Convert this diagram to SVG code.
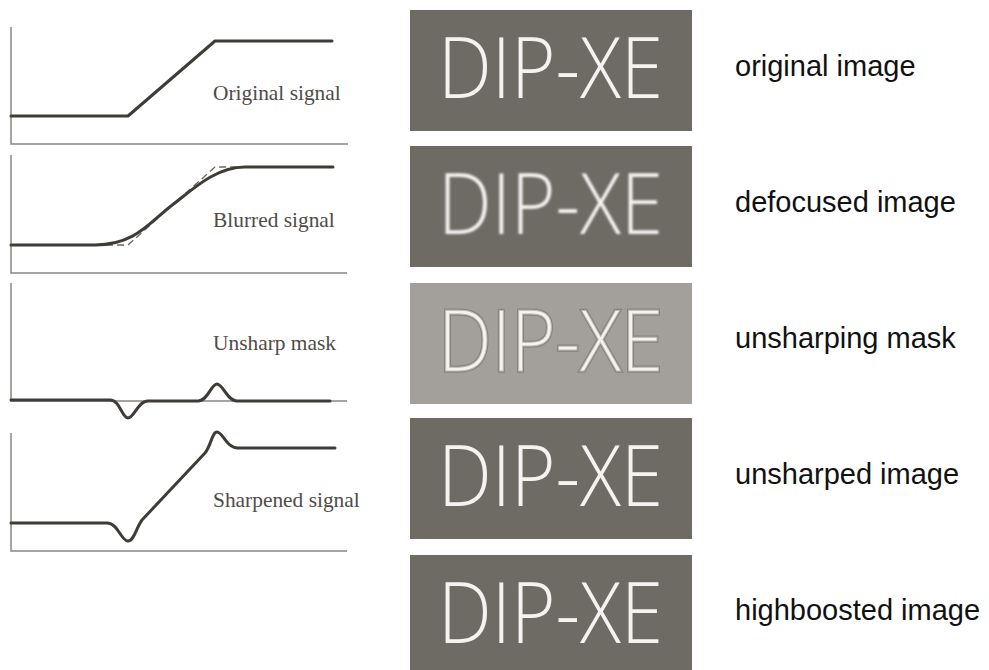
<svg xmlns="http://www.w3.org/2000/svg" width="989" height="670" viewBox="0 0 989 670">
<style>
.axis{fill:none;stroke:#8a8680;stroke-width:1.5}
.sig{fill:none;stroke:#3f3b37;stroke-width:3;stroke-linejoin:round;stroke-linecap:round}
.dash{fill:none;stroke:#6a6661;stroke-width:1.3;stroke-dasharray:7,4}
.cap{font-family:"Liberation Serif",serif;font-size:21.4px;fill:#4f4b47}
.box{fill:#6e6a64}
.logo{font-family:"Open Sans","Liberation Sans",sans-serif;font-weight:300;font-size:85px;fill:#f4f3f0}
.lbl{font-family:"Liberation Sans",sans-serif;font-size:29px;fill:#111}
</style>
<defs>
<filter id="soft" x="-5%" y="-5%" width="110%" height="110%"><feGaussianBlur stdDeviation="0.6"/></filter>
<filter id="blur" x="-5%" y="-5%" width="110%" height="110%"><feGaussianBlur stdDeviation="1.0"/></filter>
</defs>
<rect width="989" height="670" fill="#fff"/>

<g id="plot-original">
<path class="axis" d="M11,27 V144 H348"/>
<path class="sig" d="M11,116 H128 L215,41 H332"/>
<text class="cap" x="213" y="100">Original signal</text>
</g>

<g id="plot-blurred">
<path class="axis" d="M11,155 V273 H347"/>
<path class="dash" d="M95,245 H128 L215,167 H245"/>
<path class="sig" d="M11,245 H95 C135,245 150,222 171,206 S215,167 245,167 H333"/>
<text class="cap" x="213" y="227">Blurred signal</text>
</g>

<g id="plot-mask">
<path class="axis" d="M11,283 V401 H347"/>
<path class="sig" d="M11,400 H110 C120,400 122,418 128,418 C134,418 138,401 148,401 H198 C208,401 211,384 217,384 C223,384 227,401 237,401 H330"/>
<text class="cap" x="213" y="350">Unsharp mask</text>
</g>

<g id="plot-sharpened">
<path class="axis" d="M11,433 V551 H347"/>
<path class="sig" d="M11,523 H107 C118,523 121,541 128,541 C134,541 136,528 142,520 L205,453 C211,446 212,432 217,432 C223,432 226,448 238,448 H335"/>
<text class="cap" x="213" y="507">Sharpened signal</text>
</g>

<g id="img-original">
<rect class="box" x="410" y="10" width="282" height="121"/>
<text class="logo" x="438" y="98" textLength="225" lengthAdjust="spacingAndGlyphs" filter="url(#soft)">DIP-XE</text>
<text class="lbl" x="735" y="76">original image</text>
</g>

<g id="img-defocused">
<rect class="box" x="410" y="146" width="282" height="121"/>
<text class="logo" x="438" y="234" textLength="225" lengthAdjust="spacingAndGlyphs" filter="url(#blur)">DIP-XE</text>
<text class="lbl" x="735" y="212">defocused image</text>
</g>

<g id="img-mask">
<rect x="410" y="283" width="282" height="121" fill="#a39f9b"/>
<text class="logo" x="438" y="371" textLength="225" lengthAdjust="spacingAndGlyphs" fill="none" stroke="#86827c" stroke-width="3.5" filter="url(#soft)">DIP-XE</text>
<text class="logo" x="438" y="371" textLength="225" lengthAdjust="spacingAndGlyphs" fill="#a8a5a0" stroke="#bebbb6" stroke-width="1" filter="url(#soft)">DIP-XE</text>
<text class="lbl" x="735" y="348">unsharping mask</text>
</g>

<g id="img-unsharped">
<rect class="box" x="410" y="418" width="282" height="121"/>
<text class="logo" x="438" y="506" textLength="225" lengthAdjust="spacingAndGlyphs" filter="url(#soft)">DIP-XE</text>
<text class="lbl" x="735" y="484">unsharped image</text>
</g>

<g id="img-highboosted">
<rect class="box" x="410" y="555" width="282" height="121"/>
<text class="logo" x="438" y="643" textLength="225" lengthAdjust="spacingAndGlyphs" fill="#fff" filter="url(#soft)">DIP-XE</text>
<text class="lbl" x="735" y="620">highboosted image</text>
</g>

<g id="connectors"/>
</svg>
